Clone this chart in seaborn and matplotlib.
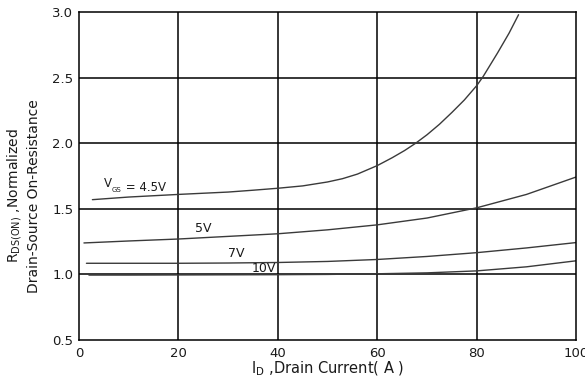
import numpy as np
import pandas as pd
import matplotlib
matplotlib.use("Agg")
import matplotlib.pyplot as plt
import seaborn as sns

# Normalized on-resistance vs drain current for several gate voltages
vgs_labels = ["4.5V", "5V", "7V", "10V"]

id_45 = [2.7, 10, 20, 30, 35, 40, 45, 50, 53, 56, 60, 63, 65.5, 67.7,
         70, 72.5, 75, 77.5, 80, 81.3, 84.2, 86.5, 88.4]
r_45 = [1.57, 1.59, 1.61, 1.628, 1.642, 1.657, 1.675, 1.705, 1.73, 1.765, 1.83, 1.89,
        1.945, 2.0, 2.065, 2.145, 2.235, 2.33, 2.44, 2.51, 2.69, 2.84, 2.98]

id_5 = [1.0, 10, 20, 30, 40, 50, 60, 70, 80, 90, 100]
r_5 = [1.24, 1.255, 1.27, 1.29, 1.31, 1.34, 1.378, 1.43, 1.508, 1.61, 1.743]

id_7 = [1.5, 10, 20, 30, 40, 50, 60, 70, 80, 90, 100]
r_7 = [1.085, 1.085, 1.085, 1.087, 1.091, 1.099, 1.114, 1.137, 1.166, 1.202, 1.243]

id_10 = [2.0, 10, 20, 30, 40, 50, 60, 70, 80, 90, 100]
r_10 = [0.995, 0.995, 0.996, 0.997, 0.998, 1.0, 1.005, 1.012, 1.027, 1.058, 1.104]

x_ticks = [0, 20, 40, 60, 80, 100]
y_ticks = [0.5, 1.0, 1.5, 2.0, 2.5, 3.0]

df = pd.concat([
    pd.DataFrame({"Id": id_45, "R": r_45, "Vgs": "4.5V"}),
    pd.DataFrame({"Id": id_5, "R": r_5, "Vgs": "5V"}),
    pd.DataFrame({"Id": id_7, "R": r_7, "Vgs": "7V"}),
    pd.DataFrame({"Id": id_10, "R": r_10, "Vgs": "10V"}),
], ignore_index=True)

sns.set_style("white")
plt.rcParams["font.family"] = ["DejaVu Sans"]
plt.rcParams["mathtext.default"] = "regular"

fig = plt.figure(figsize=(5.85, 3.78), dpi=100)
ax = fig.add_axes([0.135, 0.1005, 0.85, 0.8675])

ax.set_xlim(0, 100)
ax.set_ylim(0.5, 3.0)
ax.set_xticks(x_ticks)
ax.set_yticks(y_ticks)
ax.set_yticklabels([f"{v:.1f}" for v in y_ticks])

# grid drawn beneath curves
for xv in x_ticks[1:-1]:
    ax.axvline(xv, color="black", lw=1.1, zorder=1)
for yv in y_ticks[1:-1]:
    ax.axhline(yv, color="black", lw=1.1, zorder=1)

sns.lineplot(data=df, x="Id", y="R", hue="Vgs", hue_order=vgs_labels,
             palette=["#3a3a3a"] * 4, legend=False, lw=1.0, ax=ax,
             estimator=None, sort=True, zorder=2)

for sp in ax.spines.values():
    sp.set_visible(True)
    sp.set_color("black")
    sp.set_linewidth(1.1)

ax.tick_params(axis="both", length=0, labelsize=9.5, colors="#1a1a1a", pad=4)
ax.tick_params(axis="x", pad=5)

ax.set_xlabel(r"I$_{\rm D}$ ,Drain Current( A )", fontsize=10.5, color="#1a1a1a", labelpad=0)
ax.set_ylabel("R$_{\\rm DS(ON)}$ ,Normalized\nDrain-Source On-Resistance",
              fontsize=10, color="#1a1a1a", linespacing=1.2)
ax.yaxis.set_label_coords(-0.077, 0.44)

lab_kw = dict(fontsize=8.5, color="#1a1a1a", va="baseline", ha="left")
t_v = ax.text(5.0, 1.665, "V", **lab_kw)
t_gs = ax.annotate("GS", xy=(1.0, 0.0), xycoords=t_v, xytext=(0.2, -1.2),
                   textcoords="offset points", fontsize=5, color="#1a1a1a",
                   va="baseline", ha="left")
ax.annotate(" = 4.5V", xy=(1.0, 0.0), xycoords=t_gs, xytext=(0, 1.2),
            textcoords="offset points", fontsize=8.5, color="#1a1a1a",
            va="baseline", ha="left")
ax.text(23.4, 1.325, "5V", fontsize=9, color="#1a1a1a", va="baseline", ha="left")
ax.text(30.0, 1.13, "7V", fontsize=9, color="#1a1a1a", va="baseline", ha="left")
ax.text(34.7, 1.015, "10V", fontsize=9, color="#1a1a1a", va="baseline", ha="left")

fig.savefig("out.png", dpi=100)
